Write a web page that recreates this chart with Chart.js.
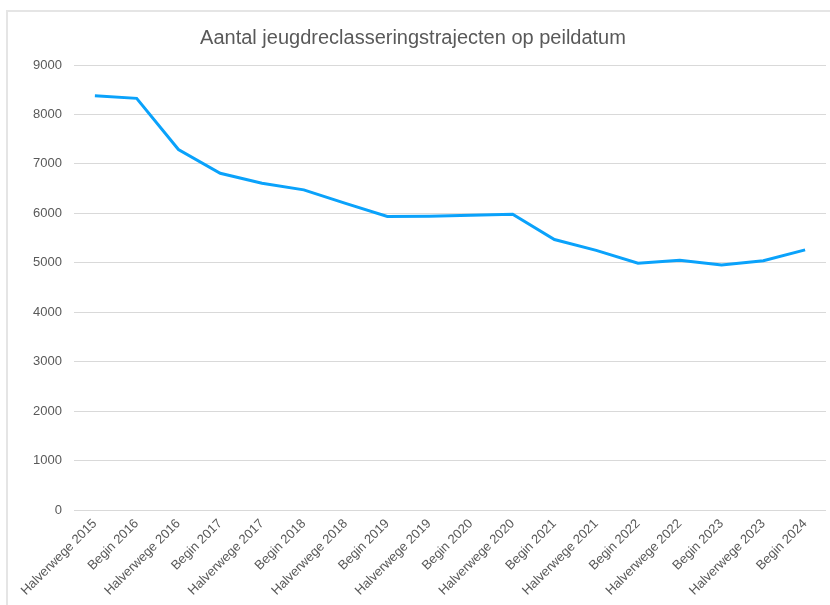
<!DOCTYPE html>
<html>
<head>
<meta charset="utf-8">
<script src="https://cdn.jsdelivr.net/npm/chart.js@4"></script>
<style>
  html, body { margin: 0; padding: 0; background: #fff; overflow: hidden; }
  #frame {
    position: absolute; left: 6px; top: 10px; width: 900px; height: 700px;
    border-top: 2px solid #e5e5e5; border-left: 2px solid #e5e5e5;
  }
  #wrap { position: absolute; left: 0; top: 0; width: 830px; height: 605px; }
</style>
</head>
<body>
<div id="frame"></div>
<div id="wrap"><canvas id="lineChart"></canvas></div>
<script>
const labels = [
  'Halverwege 2015', 'Begin 2016', 'Halverwege 2016', 'Begin 2017',
  'Halverwege 2017', 'Begin 2018', 'Halverwege 2018', 'Begin 2019',
  'Halverwege 2019', 'Begin 2020', 'Halverwege 2020', 'Begin 2021',
  'Halverwege 2021', 'Begin 2022', 'Halverwege 2022', 'Begin 2023',
  'Halverwege 2023', 'Begin 2024'
];
const trajecten = [
  8380, 8325, 7290, 6810, 6610, 6475, 6200, 5935, 5940,
  5960, 5980, 5470, 5250, 4990, 5050, 4955, 5040, 5260
];
const yTicks = [0, 1000, 2000, 3000, 4000, 5000, 6000, 7000, 8000, 9000];

const textColor = '#595959';
const fontFamily = '"Liberation Sans", Arial, Helvetica, sans-serif';

const config = {
  type: 'line',
  data: {
    labels: labels,
    datasets: [{
      label: 'Aantal trajecten',
      data: trajecten,
      borderColor: '#0aa2fb',
      backgroundColor: '#0aa2fb',
      borderWidth: 3,
      pointRadius: 0,
      tension: 0
    }]
  },
  options: {
    responsive: false,
    animation: false,
    layout: { padding: { left: 0, right: 4, top: 0, bottom: 0 } },
    plugins: {
      legend: { display: false },
      tooltip: { enabled: false },
      title: {
        display: true,
        text: 'Aantal jeugdreclasseringstrajecten op peildatum',
        color: textColor,
        font: { family: fontFamily, size: 20, weight: 'normal' },
        padding: { top: 26, bottom: 15 }
      }
    },
    scales: {
      x: {
        offset: true,
        grid: { display: false, drawTicks: false },
        border: { display: false },
        ticks: {
          color: textColor,
          font: { family: fontFamily, size: 13 },
          maxRotation: 45,
          minRotation: 45,
          autoSkip: false,
          padding: 6
        },
        afterFit: function (scale) { scale.height = 95; }
      },
      y: {
        min: 0,
        max: 9000,
        afterBuildTicks: function (scale) {
          scale.ticks = yTicks.map(v => ({ value: v }));
        },
        grid: { color: '#d9d9d9', lineWidth: 1, drawTicks: false },
        border: { display: false },
        ticks: {
          color: textColor,
          font: { family: fontFamily, size: 13 },
          padding: 12,
          callback: function (value) { return String(value); }
        },
        afterFit: function (scale) { scale.width = 74; }
      }
    }
  }
};

const canvas = document.getElementById('lineChart');
canvas.width = 830;
canvas.height = 605;
var lineChart = new Chart(canvas, config);
</script>
</body>
</html>
